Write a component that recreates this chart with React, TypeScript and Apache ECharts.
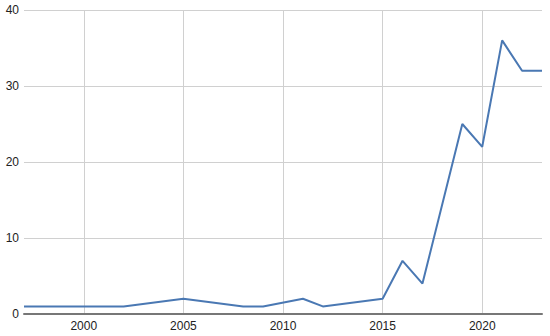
import React, { useEffect, useRef } from "react";
import * as echarts from "echarts";

const years: string[] = [
  "1997", "1998", "1999", "2000", "2001", "2002", "2003", "2004", "2005",
  "2006", "2007", "2008", "2009", "2010", "2011", "2012", "2013", "2014",
  "2015", "2016", "2017", "2018", "2019", "2020", "2021", "2022", "2023",
];
const counts: (number | null)[] = [
  1, 1, 1, 1, 1, 1, null, null, 2,
  null, null, 1, 1, null, 2, 1, null, null,
  2, 7, 4, null, 25, 22, 36, 32, 32,
];
const yTicks = { min: 0, max: 40, interval: 10 };

export default function App() {
  const ref = useRef<HTMLDivElement>(null);
  useEffect(() => {
    if (!ref.current) return;
    const chart = echarts.init(ref.current, null, { renderer: "svg" });
    const showFive = (_i: number, v: string) => Number(v) % 5 === 0;
    chart.setOption({
      animation: false,
      grid: { left: 24, right: 8, top: 10, bottom: 22, containLabel: false },
      xAxis: {
        type: "category",
        data: years,
        boundaryGap: false,
        axisLine: { show: true, lineStyle: { color: "#777", width: 2 } },
        axisTick: { show: false },
        axisLabel: {
          interval: showFive,
          color: "#222",
          fontSize: 12,
          fontFamily: "Liberation Sans, Arial, sans-serif",
          margin: 6,
        },
        splitLine: {
          show: true,
          interval: showFive,
          lineStyle: { color: "#d0d0d0", width: 1 },
        },
      },
      yAxis: {
        type: "value",
        min: yTicks.min,
        max: yTicks.max,
        interval: yTicks.interval,
        axisLine: { show: false },
        axisTick: { show: false },
        axisLabel: {
          color: "#222",
          fontSize: 12,
          fontFamily: "Liberation Sans, Arial, sans-serif",
          margin: 5,
        },
        splitLine: { show: true, lineStyle: { color: "#d0d0d0", width: 1 } },
      },
      series: [
        {
          type: "line",
          data: counts,
          connectNulls: true,
          showSymbol: false,
          symbol: "none",
          lineStyle: { color: "#4a78b3", width: 2 },
        },
      ],
    });
    return () => chart.dispose();
  }, []);
  return <div ref={ref} style={{ width: 550, height: 336, position: "absolute", left: 0, top: 0 }} />;
}
